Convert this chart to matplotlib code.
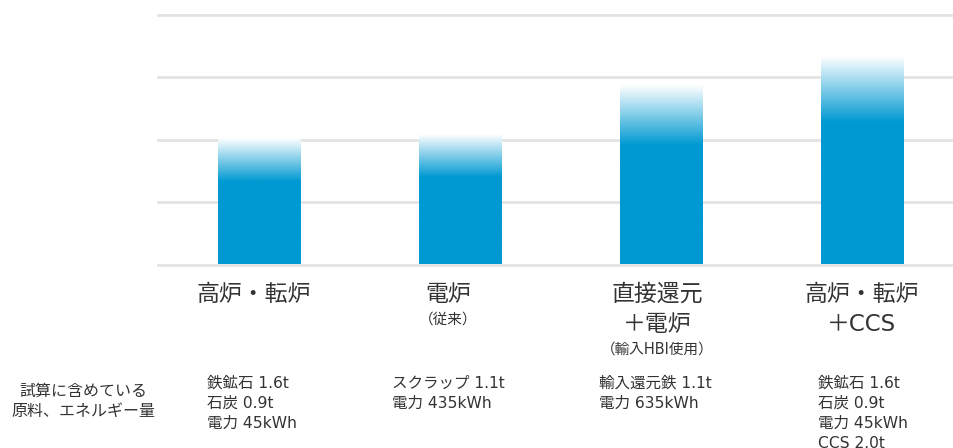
import numpy as np
import matplotlib
matplotlib.use("Agg")
import matplotlib.pyplot as plt
import matplotlib.transforms as mtransforms
from matplotlib.colors import LinearSegmentedColormap

plt.rcParams['font.family'] = ['DejaVu Sans', 'Noto Sans CJK JP']

# データ（グリッド1目盛=1として読み取り）
labels = ['高炉・転炉', '電炉', '直接還元\n＋電炉', '高炉・転炉\n＋CCS']
sublabels = ['', '（従来）', '（輸入HBI使用）', '']
solid_vals = [1.32, 1.39, 1.90, 2.27]   # 濃い部分
top_vals = [2.02, 2.08, 2.86, 3.33]     # グラデーション上端
materials = [
    '鉄鉱石 1.6t\n石炭 0.9t\n電力 45kWh',
    'スクラップ 1.1t\n電力 435kWh',
    '輸入還元鉄 1.1t\n電力 635kWh',
    '鉄鉱石 1.6t\n石炭 0.9t\n電力 45kWh\nCCS 2.0t',
]
row_title = '試算に含めている\n原料、エネルギー量'

blue = '#0099d2'
text_col = '#333333'
grid_col = '#e3e3e3'
lab_dx = [-0.025, -0.057, -0.02, 0.0]
mat_dx = [-0.259, -0.338, -0.306, -0.219]

fig = plt.figure(figsize=(9.54, 4.48), dpi=100)
ax = fig.add_axes([158 / 954, 1 - 264.5 / 448, 1 - 158 / 954, (264.5 - 15) / 448])

x = np.arange(len(labels))
w = 0.41

for yv in range(0, 5):
    ax.axhline(yv, color=grid_col, lw=2, zorder=0, clip_on=False)

# 棒：下は濃い青、上部は白へグラデーション
cmap = LinearSegmentedColormap.from_list('fade', ['#ffffff', blue])
for xi, s, t in zip(x, solid_vals, top_vals):
    ys = np.linspace(0, t, 600)
    frac = np.clip((t - ys) / (t - s), 0, 1).reshape(-1, 1)
    ax.imshow(frac, cmap=cmap, vmin=0, vmax=1, aspect='auto', origin='lower',
              extent=[xi - w / 2, xi + w / 2, 0, t], zorder=2, interpolation='bilinear')

ax.set_xlim(-0.502, 3.458)
ax.set_ylim(0, 4)
ax.axis('off')

trans = mtransforms.blended_transform_factory(ax.transData, fig.transFigure)
for xi, dx, lab, sub in zip(x, lab_dx, labels, sublabels):
    ax.text(xi + dx, 1 - 283 / 448, lab, transform=trans, ha='center', va='top',
            fontsize=16.5, color=text_col, linespacing=1.4)
    if sub:
        nlines = lab.count('\n') + 1
        y_sub = 1 - (312 + (nlines - 1) * 30) / 448
        ax.text(xi + dx, y_sub, sub, transform=trans, ha='center', va='top',
                fontsize=10.5, color=text_col)

for xi, dx, m in zip(x, mat_dx, materials):
    ax.text(xi + dx, 1 - 376 / 448, m, transform=trans, ha='left', va='top',
            fontsize=11.2, color=text_col, linespacing=1.42)

fig.text(83 / 954, 1 - 384 / 448, row_title, ha='center', va='top',
         fontsize=11.5, color=text_col, linespacing=1.4)

fig.savefig('out.png', dpi=100, facecolor='white')
